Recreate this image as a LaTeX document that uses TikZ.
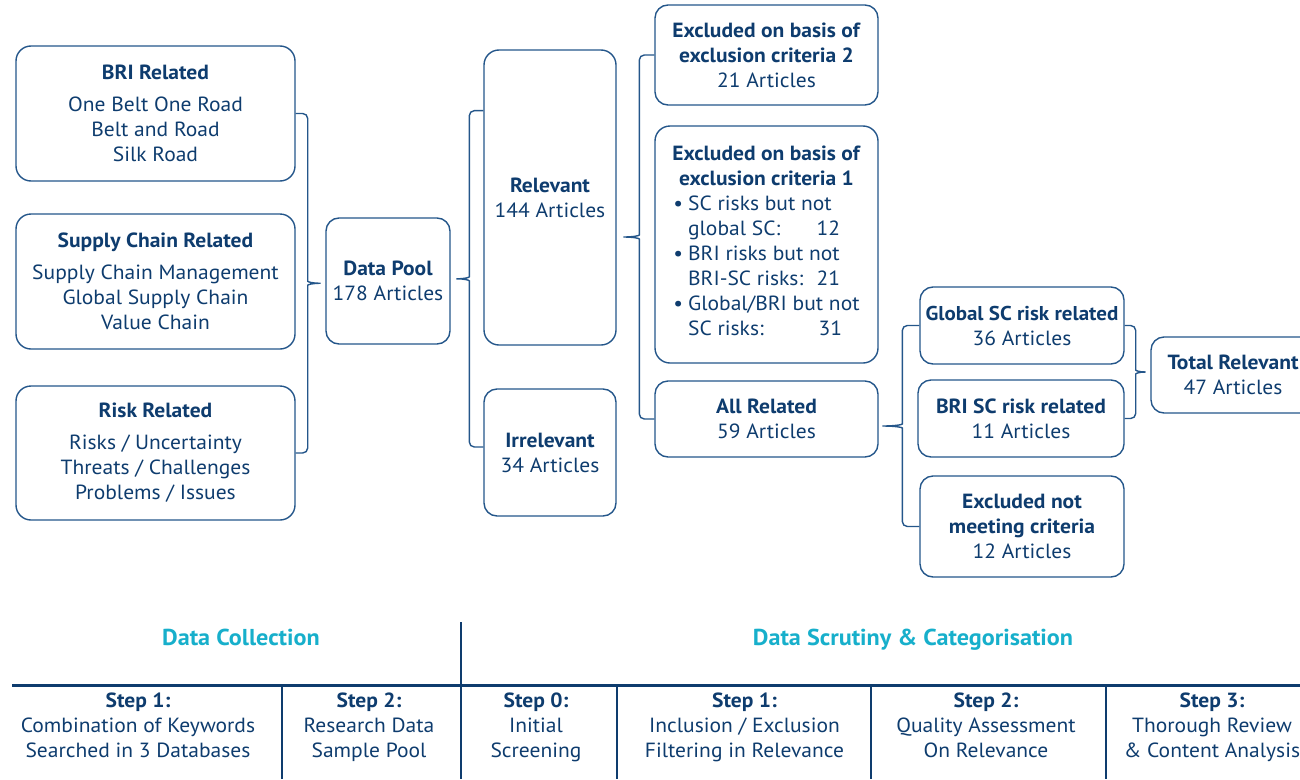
\documentclass[tikz,border=0pt]{standalone}
\usepackage{fontspec}
\setmainfont[FakeStretch=1.05]{PT Sans}
\usetikzlibrary{calc}
\definecolor{navy}{HTML}{0E3C6E}
\definecolor{frame}{HTML}{24568A}
\definecolor{headteal}{HTML}{17AFCB}

% curly brace: #1 upper end, #2 lower end, #3 stub to spine (pt), #4 tip beyond spine (pt)
\newcommand\curlybrace[4]{%
  \draw[link] let \p1=(#1), \p2=(#2), \n1={(\y1+\y2)/2} in
    (\p1) [rounded corners=5pt] -- (\x1+#3pt,\y1) -- (\x1+#3pt,\n1+7pt) [sharp corners]
      .. controls (\x1+#3pt,\n1+1.5pt) and (\x1+#3pt+0.3*#4pt,\n1) .. (\x1+#3pt+#4pt,\n1)
    (\p2) [rounded corners=5pt] -- (\x1+#3pt,\y2) -- (\x1+#3pt,\n1-7pt) [sharp corners]
      .. controls (\x1+#3pt,\n1-1.5pt) and (\x1+#3pt+0.3*#4pt,\n1) .. (\x1+#3pt+#4pt,\n1);
}

\begin{document}
\begin{tikzpicture}[x=1pt,y=-1pt,
  box/.style={draw=frame, line width=1.4pt, rounded corners=13pt, text=navy,
    align=center, inner sep=0pt, font=\fontsize{20.5}{25}\selectfont},
  link/.style={draw=frame, line width=1.4pt},
  rule/.style={draw=navy, line width=1.1pt},
  head/.style={text=headteal, text height=17pt, text depth=5pt, inner sep=0pt,
    font=\fontsize{23}{26}\selectfont\bfseries},
  cell/.style={text=navy, align=center, inner sep=0pt, anchor=north,
    font=\fontsize{20.5}{25}\selectfont}]
\useasboundingbox (0,0) rectangle (1300,779);
\clip (0,0) rectangle (1300,779);

% keyword groups
\node[box, rounded corners=15pt, minimum width=279pt, minimum height=135pt] (bri) at (155.5,113.5)
  {\textbf{BRI Related}\\[7pt]One Belt One Road\\Belt and Road\\Silk Road};
\node[box, rounded corners=15pt, minimum width=279pt, minimum height=135pt] (scr) at (155.5,281.5)
  {\textbf{Supply Chain Related}\\[7pt]Supply Chain Management\\Global Supply Chain\\Value Chain};
\node[box, rounded corners=15pt, minimum width=279pt, minimum height=134pt] (risk) at (155.5,453)
  {\textbf{Risk Related}\\[7pt]Risks / Uncertainty\\Threats / Challenges\\Problems / Issues};

% pool and screening
\node[box, minimum width=124pt, minimum height=126pt] (pool) at (388,281)
  {\textbf{Data Pool}\\178 Articles};
\node[box, rounded corners=15pt, minimum width=132pt, minimum height=295pt] (rel) at (550,197.5)
  {\textbf{Relevant}\\144 Articles};
\node[box, minimum width=132pt, minimum height=127pt] (irr) at (550,452.5)
  {\textbf{Irrelevant}\\34 Articles};

% exclusion stage
\node[box, minimum width=223pt, minimum height=100pt] (ex2) at (766.5,55)
  {\textbf{Excluded on basis of}\\\textbf{exclusion criteria 2}\\21 Articles};
\node[box, rounded corners=15pt, minimum width=223pt, minimum height=237pt] (ex1) at (766.5,244.5)
  {\textbf{Excluded on basis of}\\\textbf{exclusion criteria 1}\\[6pt]
   \begin{tabular}{@{}l@{\hspace{5pt}}l@{}}
   \textbullet & SC risks but not\\
               & \makebox[152pt][l]{global SC:\hfill 12}\\
   \textbullet & BRI risks but not\\
               & \makebox[152pt][l]{BRI-SC risks:\hfill 21}\\
   \textbullet & Global/BRI but not\\
               & \makebox[154pt][l]{SC risks:\hfill 31}
   \end{tabular}};
\node[box, minimum width=223pt, minimum height=76pt] (allrel) at (766.5,419)
  {\textbf{All Related}\\59 Articles};

% categorisation
\node[box, minimum width=204pt, minimum height=77pt] (glob) at (1022,325.5)
  {{\fontsize{20}{25}\selectfont\textbf{Global SC risk related}}\\36 Articles};
\node[box, minimum width=206pt, minimum height=77pt] (brisc) at (1021,418.5)
  {\textbf{BRI SC risk related}\\11 Articles};
\node[box, minimum width=204pt, minimum height=101pt] (exnot) at (1022,526.5)
  {\textbf{Excluded not}\\\textbf{meeting criteria}\\12 Articles};
\node[box, minimum width=164pt, minimum height=76pt] (total) at (1233,375)
  {\textbf{Total Relevant}\\47 Articles};

% braces
\curlybrace{bri.east}{risk.east}{12}{13}
\curlybrace{$(rel.north west)!0.207!(rel.south west)$}{$(irr.west)+(0,-5.5)$}{-14}{-13}
\curlybrace{ex2.west}{allrel.west}{-15}{-16}
\curlybrace{glob.west}{exnot.west}{-17}{-20}
\curlybrace{glob.east}{brisc.east}{11}{10}

% process table
\node[head] (hcol) at (241,639) {Data Collection};
\node[head] (hscr) at (913,639) {Data Scrutiny \& Categorisation};
\draw[draw=navy, line width=3pt] (12,685) -- (1300,685);
\draw[rule] (461,622) -- (461,779);
\foreach \xx in {282,617,871,1106} \draw[rule] (\xx,686) -- (\xx,779);

\node[cell] (c1) at (138,693) {\textbf{Step 1:}\\Combination of Keywords\\Searched in 3 Databases};
\node[cell] (c2) at (369,693) {\textbf{Step 2:}\\Research Data\\Sample Pool};
\node[cell] (c3) at (536,693) {\textbf{Step 0:}\\Initial\\Screening};
\node[cell] (c4) at (744.5,693) {\textbf{Step 1:}\\Inclusion / Exclusion\\Filtering in Relevance};
\node[cell] (c5) at (986,693) {\textbf{Step 2:}\\Quality Assessment\\On Relevance};
\node[cell] (c6) at (1212,693) {\textbf{Step 3:}\\Thorough Review\\\& Content Analysis};
\end{tikzpicture}
\end{document}
